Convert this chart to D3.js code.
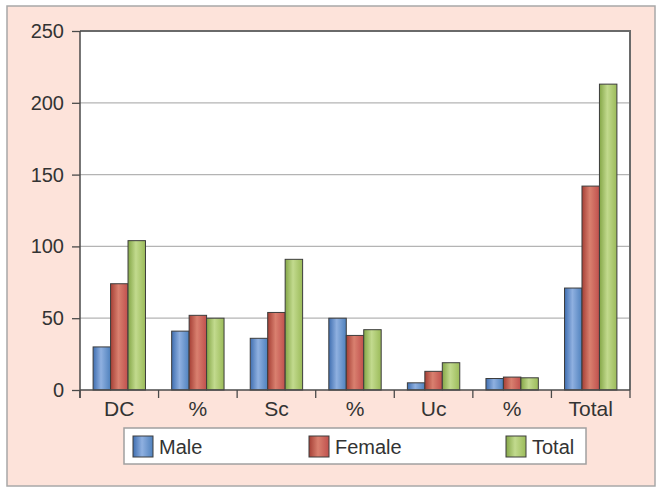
<!DOCTYPE html>
<html>
<head>
<meta charset="utf-8">
<script src="https://cdn.jsdelivr.net/npm/d3@7"></script>
<style>
  body { margin: 0; background: #fff; }
  svg { display: block; font-family: "Liberation Sans", Arial, sans-serif; }
</style>
</head>
<body>
<svg id="chart" width="656" height="488"></svg>
<script>
// data
var categories = ["DC", "%", "Sc", "%", "Uc", "%", "Total"];
var male   = [30, 41, 36, 50, 5, 8, 71];
var female = [74, 52, 54, 38, 13, 9, 142];
var total  = [104, 50, 91, 42, 19, 8.5, 213];
var seriesNames = ["Male", "Female", "Total"];
var yTicks = [0, 50, 100, 150, 200, 250];

var colors = {
  Male:   { base: "#4f81bd", light: "#8fb0e0", dark: "#3f6eb0" },
  Female: { base: "#c0504d", light: "#d9806f", dark: "#a53f35" },
  Total:  { base: "#9bbb59", light: "#c2da8e", dark: "#84a647" }
};

var svg = d3.select("#chart");
var W = 656, H = 488;
var margin = { left: 80, right: 26, top: 31, bottom: 98 };
var pw = W - margin.left - margin.right,
    ph = H - margin.top - margin.bottom;

// background panel
svg.append("rect").attr("x", 7).attr("y", 6).attr("width", 648).attr("height", 480)
  .attr("fill", "#fde3da").attr("stroke", "#a8a8a8").attr("stroke-width", 1.5);

// gradients
var defs = svg.append("defs");
seriesNames.forEach(function(s) {
  var g = defs.append("linearGradient").attr("id", "grad-" + s)
    .attr("x1", "0%").attr("x2", "100%").attr("y1", "0%").attr("y2", "0%");
  g.append("stop").attr("offset", "0%").attr("stop-color", colors[s].dark);
  g.append("stop").attr("offset", "45%").attr("stop-color", colors[s].light);
  g.append("stop").attr("offset", "100%").attr("stop-color", colors[s].base);
});

var plot = svg.append("g").attr("transform", "translate(" + margin.left + "," + margin.top + ")");

plot.append("rect").attr("width", pw).attr("height", ph).attr("fill", "#ffffff");

var x0 = d3.scaleBand().domain(d3.range(categories.length)).range([0, pw]).paddingInner(0).paddingOuter(0);
var x1 = d3.scaleBand().domain(seriesNames).range([0, x0.bandwidth()]).paddingOuter(0.75);
var y = d3.scaleLinear().domain([0, 250]).range([ph, 0]);

// gridlines
plot.selectAll(".grid").data(yTicks.slice(1)).enter().append("line")
  .attr("x1", 0).attr("x2", pw)
  .attr("y1", function(d) { return y(d); }).attr("y2", function(d) { return y(d); })
  .attr("stroke", "#b4b4b4").attr("stroke-width", 1.3);

// plot frame top/right
plot.append("path").attr("d", "M0,0H" + pw + "V" + ph)
  .attr("fill", "none").attr("stroke", "#6a6a6a").attr("stroke-width", 2);

// bars
var rows = categories.map(function(c, i) {
  return { i: i, values: [
    { s: "Male", v: male[i] }, { s: "Female", v: female[i] }, { s: "Total", v: total[i] }
  ]};
});

var groups = plot.selectAll(".grp").data(rows).enter().append("g")
  .attr("transform", function(d) { return "translate(" + x0(d.i) + ",0)"; });

groups.selectAll("rect").data(function(d) { return d.values; }).enter().append("rect")
  .attr("x", function(d) { return x1(d.s); })
  .attr("width", x1.bandwidth())
  .attr("y", function(d) { return y(d.v); })
  .attr("height", function(d) { return ph - y(d.v); })
  .attr("fill", function(d) { return "url(#grad-" + d.s + ")"; })
  .attr("stroke", "#3c3c3c").attr("stroke-width", 1);

// y axis
var yAxis = d3.axisLeft(y).tickValues(yTicks).tickSize(8).tickPadding(8);
var gy = plot.append("g").call(yAxis);
gy.select(".domain").attr("stroke", "#4a4a4a").attr("stroke-width", 1.5).attr("d", "M0,0V" + (ph + 8));
gy.selectAll(".tick line").attr("stroke", "#4a4a4a").attr("stroke-width", 1.3);
gy.selectAll(".tick text").attr("font-size", 20).attr("fill", "#333")
  .attr("font-family", "Liberation Sans, Arial, sans-serif");

// x axis
var gx = plot.append("g").attr("transform", "translate(0," + ph + ")");
gx.append("line").attr("x1", 0).attr("x2", pw).attr("stroke", "#4a4a4a").attr("stroke-width", 1.5);
gx.selectAll(".xt").data(d3.range(categories.length + 1)).enter().append("line")
  .attr("x1", function(d) { return d * x0.step(); }).attr("x2", function(d) { return d * x0.step(); })
  .attr("y1", 0).attr("y2", 8).attr("stroke", "#4a4a4a").attr("stroke-width", 1.3);
gx.selectAll(".xl").data(categories).enter().append("text")
  .attr("x", function(d, i) { return x0(i) + x0.bandwidth() / 2; })
  .attr("y", 26)
  .attr("text-anchor", "middle").attr("font-size", 21).attr("fill", "#333")
  .text(function(d) { return d; });

// legend
var lg = svg.append("g").attr("transform", "translate(124,428)");
lg.append("rect").attr("width", 462).attr("height", 36)
  .attr("fill", "#ffffff").attr("stroke", "#a0a0a0").attr("stroke-width", 1.5);
var legendX = [9, 185, 382];
var items = lg.selectAll(".li").data(seriesNames).enter().append("g")
  .attr("transform", function(d, i) { return "translate(" + legendX[i] + ",8)"; });
items.append("rect").attr("width", 20).attr("height", 21)
  .attr("fill", function(d) { return "url(#grad-" + d + ")"; })
  .attr("stroke", "#3c3c3c").attr("stroke-width", 1);
items.append("text").attr("x", 26).attr("y", 18)
  .attr("font-size", 20).attr("fill", "#333")
  .text(function(d) { return d; });
</script>
</body>
</html>
